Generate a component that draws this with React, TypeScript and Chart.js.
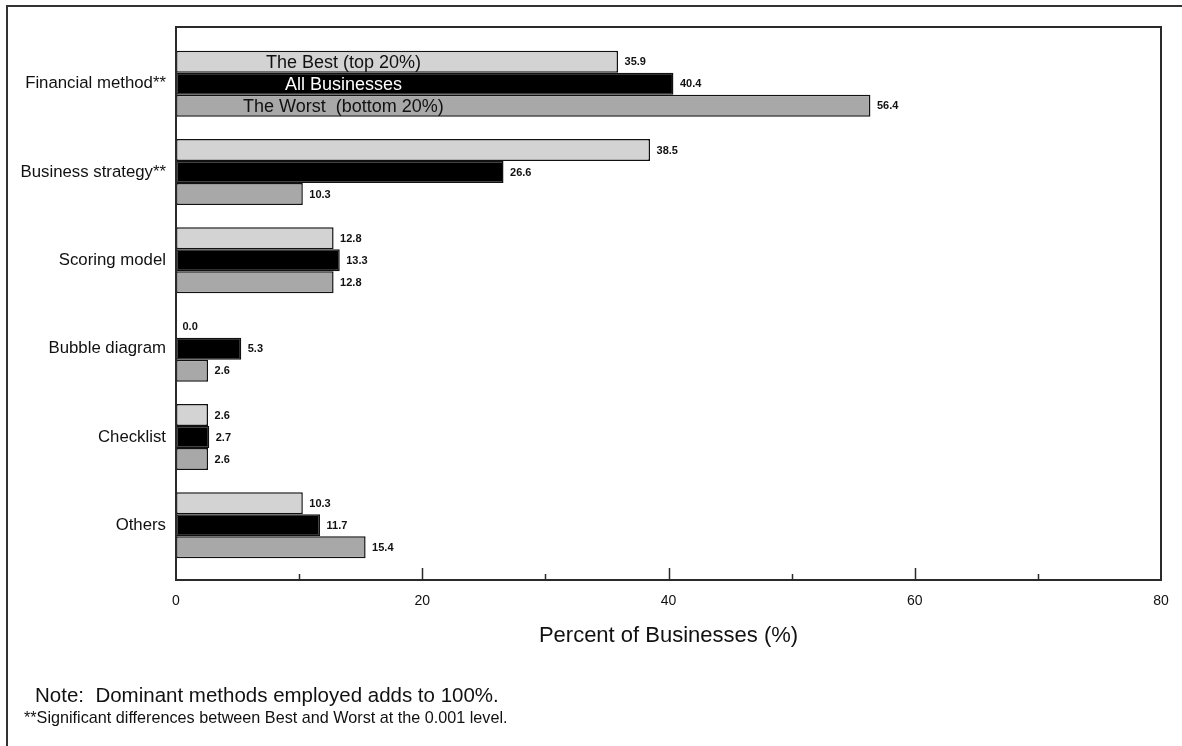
import React, { useEffect, useRef } from "react";
import { Chart, registerables } from "chart.js";

Chart.register(...registerables);

const categories = [
  "Financial method**",
  "Business strategy**",
  "Scoring model",
  "Bubble diagram",
  "Checklist",
  "Others",
];
const seriesNames = ["The Best (top 20%)", "All Businesses", "The Worst  (bottom 20%)"];
const bestValues = [35.9, 38.5, 12.8, 0.0, 2.6, 10.3];
const allValues = [40.4, 26.6, 13.3, 5.3, 2.7, 11.7];
const worstValues = [56.4, 10.3, 12.8, 2.6, 2.6, 15.4];
const xTicks = [0, 20, 40, 60, 80];
const axisTitle = "Percent of Businesses (%)";
const noteText = "Note:  Dominant methods employed adds to 100%.";
const footText = "**Significant differences between Best and Worst at the 0.001 level.";
const nameLabelValue = 13.6;

const FONT = "'Liberation Sans', Arial, Helvetica, sans-serif";

const decorPlugin = {
  id: "decor",
  afterDatasetsDraw(chart: any) {
    const { ctx, chartArea, scales } = chart;
    const x = scales.x;
    const left = x.getPixelForValue(0);
    const right = x.getPixelForValue(80);
    const top = chartArea.top - 12.5;
    const bottom = chartArea.bottom + 10.5;
    ctx.save();
    // value labels
    ctx.font = `bold 11px ${FONT}`;
    ctx.textBaseline = "middle";
    ctx.textAlign = "left";
    ctx.fillStyle = "#111";
    chart.data.datasets.forEach((ds: any, di: number) => {
      const meta = chart.getDatasetMeta(di);
      meta.data.forEach((bar: any, i: number) => {
        const v = ds.data[i];
        ctx.fillText(v.toFixed(1), bar.x + 6.5, bar.y + 0.5);
      });
    });
    // series names inside first category bars
    ctx.font = `18px ${FONT}`;
    ctx.textAlign = "center";
    const cx = x.getPixelForValue(nameLabelValue);
    seriesNames.forEach((name, di) => {
      const bar = chart.getDatasetMeta(di).data[0];
      ctx.fillStyle = di === 1 ? "#fff" : "#111";
      ctx.fillText(name, cx, bar.y + 1);
    });
    // frame
    ctx.strokeStyle = "#2a2a2a";
    ctx.lineWidth = 2;
    ctx.strokeRect(left, top, right - left, bottom - top);
    // ticks
    ctx.lineWidth = 1.5;
    for (let v = 10; v < 80; v += 10) {
      const px = Math.round(x.getPixelForValue(v)) + 0.5;
      const len = v % 20 === 0 ? 12 : 6;
      ctx.beginPath();
      ctx.moveTo(px, bottom);
      ctx.lineTo(px, bottom - len);
      ctx.stroke();
    }
    ctx.restore();
  },
  afterDraw(chart: any) {
    const { ctx } = chart;
    ctx.save();
    // outer frame lines
    ctx.strokeStyle = "#333";
    ctx.lineWidth = 2;
    ctx.beginPath();
    ctx.moveTo(7, 746);
    ctx.lineTo(7, 6);
    ctx.lineTo(1182, 6);
    ctx.stroke();
    ctx.fillStyle = "#111";
    ctx.textAlign = "left";
    ctx.textBaseline = "alphabetic";
    ctx.font = `20.5px ${FONT}`;
    ctx.fillText(noteText, 35, 702);
    ctx.font = `16.2px ${FONT}`;
    ctx.fillText(footText, 24, 723);
    ctx.restore();
  },
};

export default function App() {
  const ref = useRef<HTMLCanvasElement | null>(null);
  useEffect(() => {
    document.body.style.margin = "0";
    const canvas = ref.current;
    if (!canvas) return;
    const chart = new Chart(canvas, {
      type: "bar",
      data: {
        labels: categories,
        datasets: [
          {
            label: seriesNames[0],
            data: bestValues,
            backgroundColor: "#d3d3d3",
          },
          {
            label: seriesNames[1],
            data: allValues,
            backgroundColor: "#000000",
          },
          {
            label: seriesNames[2],
            data: worstValues,
            backgroundColor: "#a8a8a8",
          },
        ],
      },
      options: {
        indexAxis: "y",
        animation: false,
        responsive: false,
        devicePixelRatio: 1,
        layout: { padding: { left: 0, right: 21, top: 39.5, bottom: 96.5 } },
        datasets: {
          bar: {
            borderColor: "#111",
            borderWidth: 1.5,
            borderSkipped: false,
            categoryPercentage: 0.747,
            barPercentage: 1.0,
          },
        },
        plugins: {
          legend: { display: false },
          tooltip: { enabled: false },
          title: { display: false },
        },
        scales: {
          x: {
            type: "linear",
            min: 0,
            max: 80,
            afterBuildTicks: (scale: any) => {
              scale.ticks = xTicks.map((v) => ({ value: v }));
            },
            afterFit: (scale: any) => {
              scale.height = 80;
              scale.paddingLeft = 0;
              scale.paddingRight = 0;
            },
            grid: { display: false, drawTicks: false },
            border: { display: false },
            ticks: {
              padding: 23,
              color: "#111",
              font: { family: FONT, size: 14 },
              maxRotation: 0,
            },
            title: {
              display: true,
              text: axisTitle,
              color: "#111",
              font: { family: FONT, size: 22 },
              padding: { top: 0, bottom: 0 },
            },
          },
          y: {
            type: "category",
            afterFit: (scale: any) => {
              scale.width = 176;
            },
            grid: { display: false, drawTicks: false },
            border: { display: false },
            ticks: {
              padding: 10,
              color: "#111",
              font: { family: FONT, size: 16.8 },
            },
          },
        },
      },
      plugins: [decorPlugin],
    } as any);
    return () => chart.destroy();
  }, []);
  return (
    <div style={{ width: 1182, height: 746, background: "#fff" }}>
      <canvas ref={ref} width={1182} height={746} style={{ display: "block" }} />
    </div>
  );
}
